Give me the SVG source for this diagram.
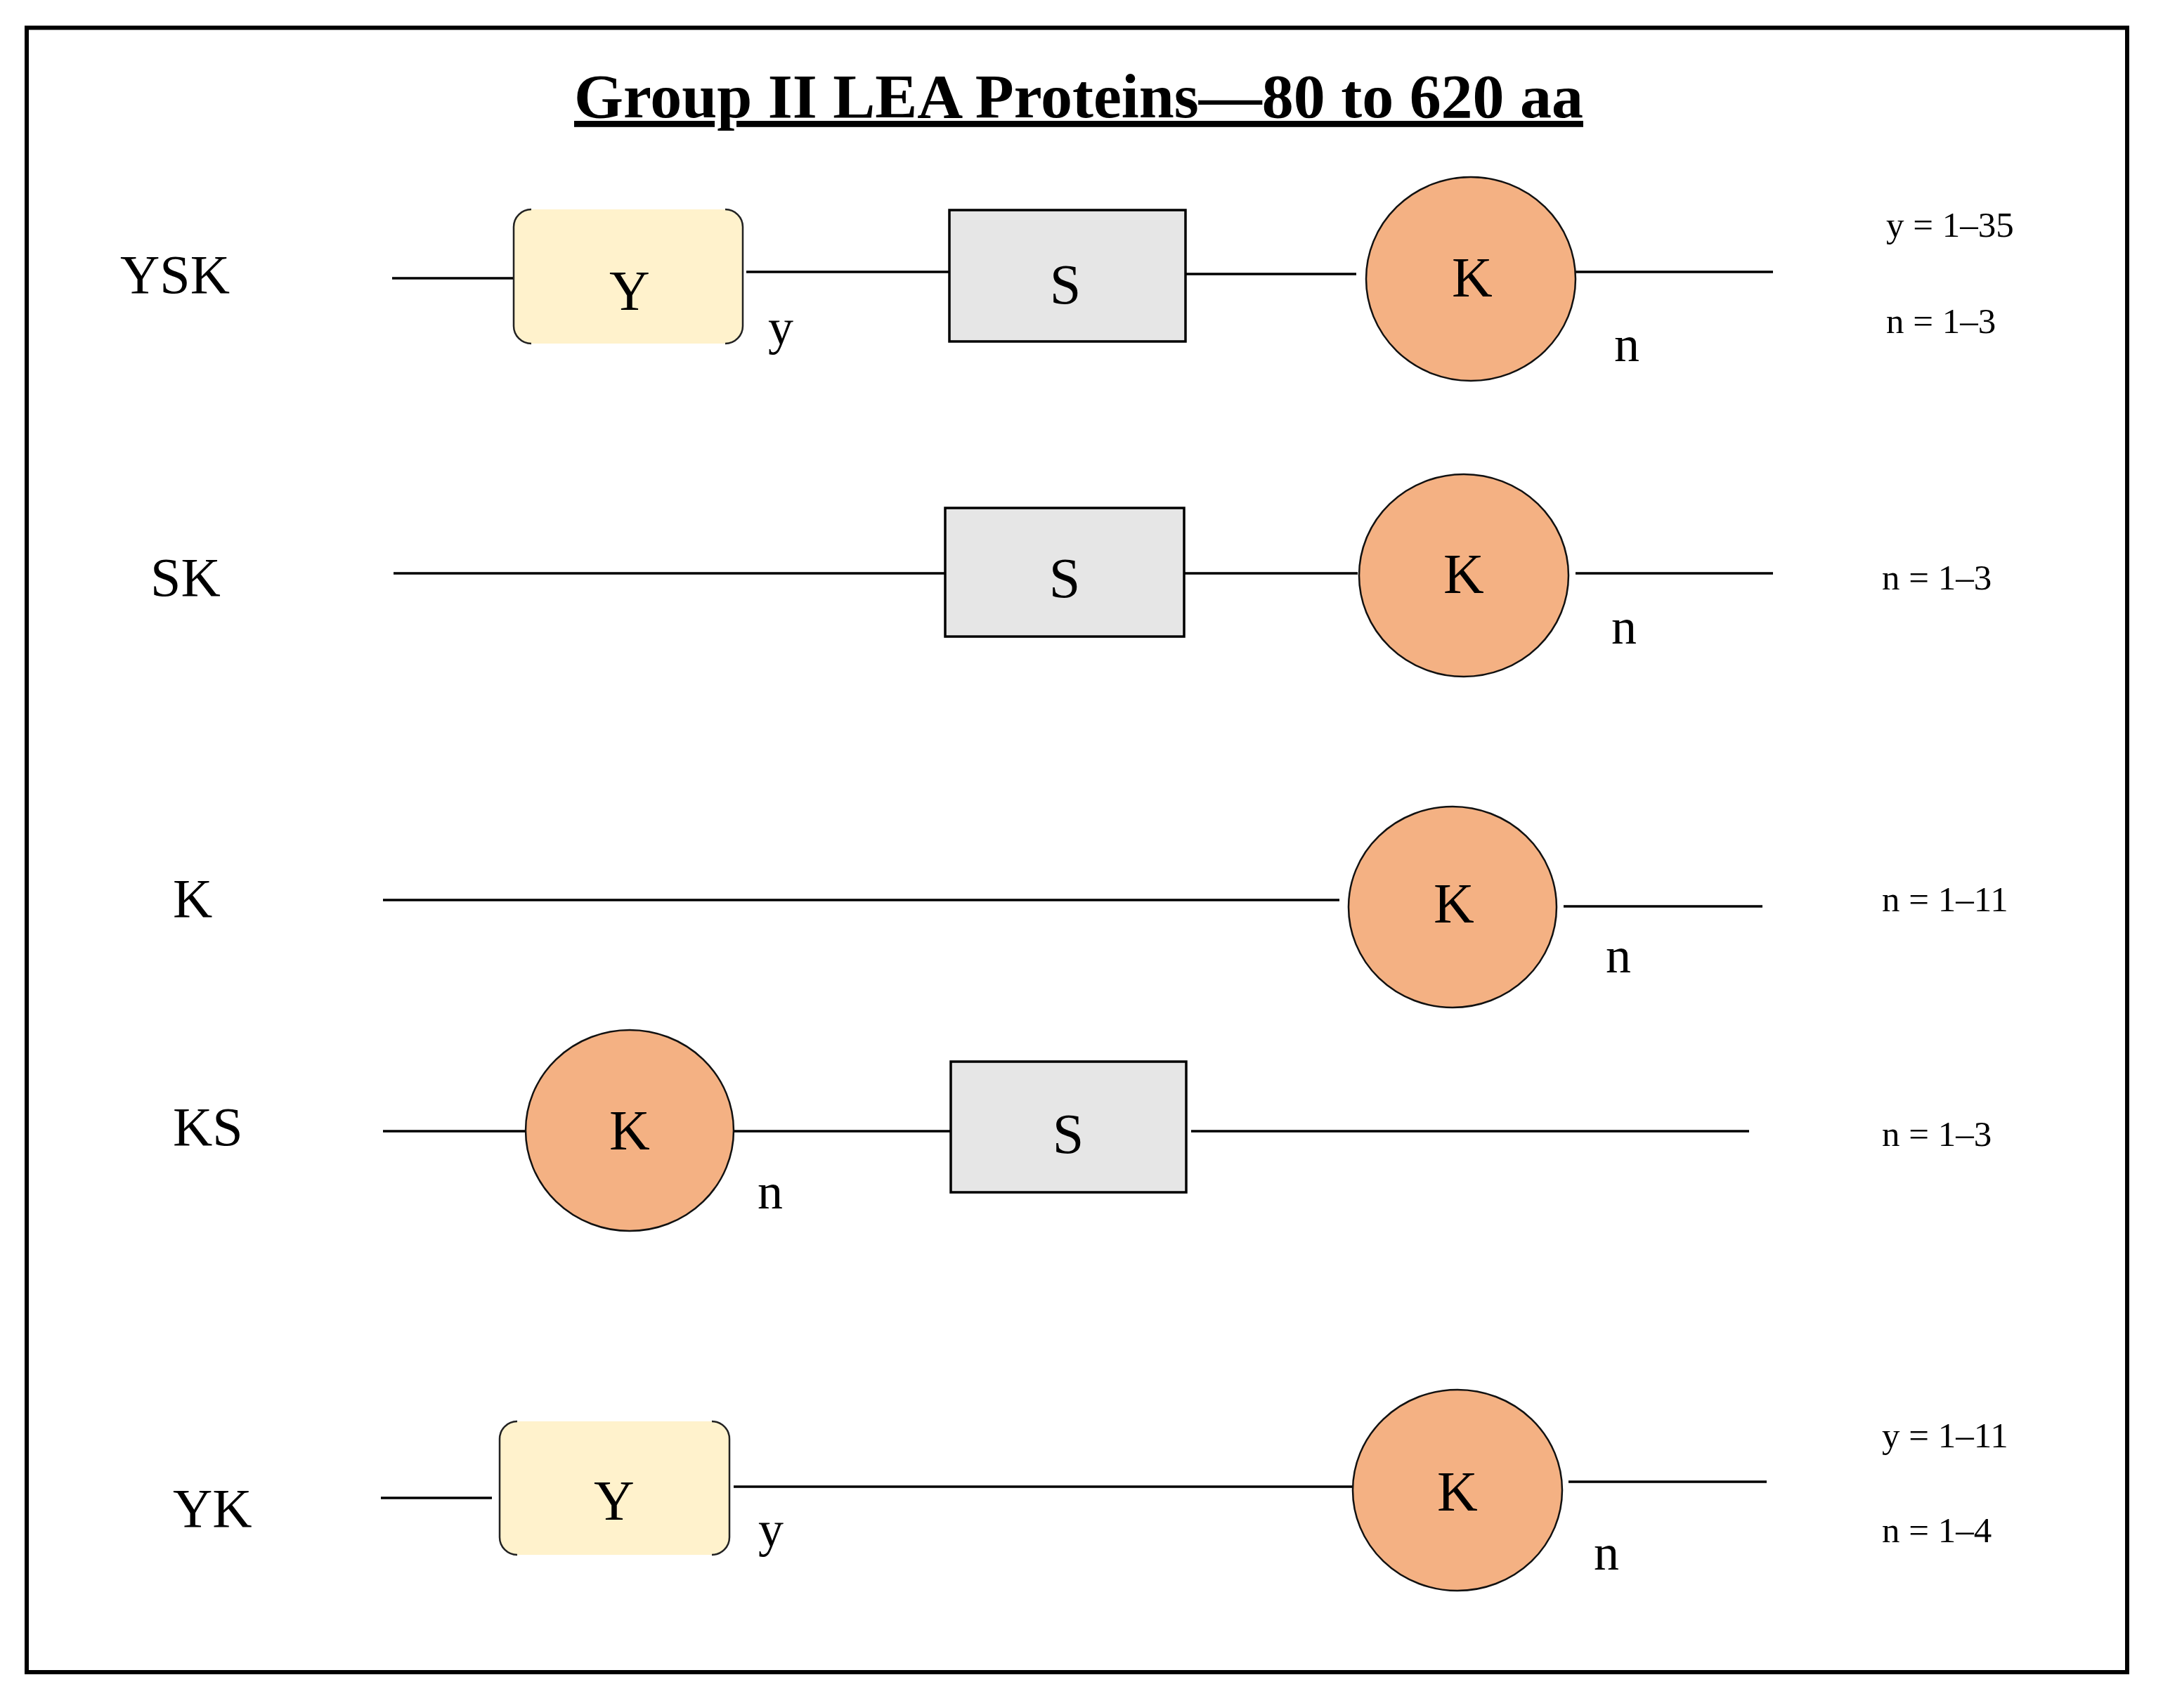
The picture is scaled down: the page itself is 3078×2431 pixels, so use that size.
<svg xmlns="http://www.w3.org/2000/svg" width="3078" height="2431" viewBox="0 0 3078 2431">
<style>
text{font-family:"Liberation Serif","DejaVu Serif",serif;fill:#000}
.lbl{font-size:78px}
.big{font-size:80px;text-anchor:middle}
.sub{font-size:72px}
.ann{font-size:51px}
.title{font-size:88px;font-weight:bold;text-anchor:middle;text-decoration:underline}
.conn line{stroke:#000;stroke-width:3.5}
.sbox{fill:#E6E6E6;stroke:#000;stroke-width:3.5}
.kell{fill:#F4B183;stroke:#111;stroke-width:2.5}
.ybox{fill:#FFF2CC}
.ybr{fill:none;stroke:#222;stroke-width:2.5}
</style>
<rect x="0" y="0" width="3078" height="2431" fill="#fff"/>
<rect x="38" y="39.5" width="2989" height="2340.5" fill="none" stroke="#000" stroke-width="6"/>
<text class="title" x="1535" y="167" textLength="1436" lengthAdjust="spacingAndGlyphs">Group II LEA Proteins—80 to 620 aa</text>

<g id="connectors" class="conn">
<line x1="558" y1="396" x2="731" y2="396"/>
<line x1="1062" y1="387" x2="1351" y2="387"/>
<line x1="1687" y1="390" x2="1930" y2="390"/>
<line x1="2242" y1="387" x2="2523" y2="387"/>
<line x1="560" y1="816" x2="1345" y2="816"/>
<line x1="1685" y1="816" x2="1932" y2="816"/>
<line x1="2242" y1="816" x2="2523" y2="816"/>
<line x1="545" y1="1281" x2="1906" y2="1281"/>
<line x1="2225" y1="1290" x2="2508" y2="1290"/>
<line x1="545" y1="1610" x2="748" y2="1610"/>
<line x1="1044" y1="1610" x2="1353" y2="1610"/>
<line x1="1695" y1="1610" x2="2489" y2="1610"/>
<line x1="542" y1="2132" x2="700" y2="2132"/>
<line x1="1044" y1="2116" x2="1925" y2="2116"/>
<line x1="2232" y1="2109" x2="2514" y2="2109"/>
</g>

<g id="row-YSK">
<text class="lbl" x="171" y="417">YSK</text>
<g id="ysk-Y">
<rect class="ybox" x="731" y="298" width="326" height="191" rx="25" ry="25"/>
<path class="ybr" d="M756,298 A25,25 0 0 0 731,323 V464 A25,25 0 0 0 756,489"/>
<path class="ybr" d="M1032,298 A25,25 0 0 1 1057,323 V464 A25,25 0 0 1 1032,489"/>
<text class="big" x="896" y="441">Y</text>
</g>
<text class="sub" x="1093" y="490">y</text>
<g id="ysk-S">
<rect class="sbox" x="1351" y="299" width="336" height="187"/>
<text class="big" x="1516" y="432">S</text>
</g>
<g id="ysk-K">
<ellipse class="kell" cx="2093" cy="397" rx="149" ry="145"/>
<text class="big" x="2095" y="422">K</text>
</g>
<text class="sub" x="2297" y="514">n</text>
<text class="ann" x="2684" y="337">y = 1–35</text>
<text class="ann" x="2684" y="474">n = 1–3</text>
</g>

<g id="row-SK">
<text class="lbl" x="214" y="848">SK</text>
<g id="sk-S">
<rect class="sbox" x="1345" y="723" width="340" height="183"/>
<text class="big" x="1515" y="850">S</text>
</g>
<g id="sk-K">
<ellipse class="kell" cx="2083" cy="819" rx="149" ry="144"/>
<text class="big" x="2083" y="844">K</text>
</g>
<text class="sub" x="2293" y="916">n</text>
<text class="ann" x="2678" y="839">n = 1–3</text>
</g>

<g id="row-K">
<text class="lbl" x="246" y="1305">K</text>
<g id="k-K">
<ellipse class="kell" cx="2067" cy="1291" rx="148" ry="143"/>
<text class="big" x="2069" y="1313">K</text>
</g>
<text class="sub" x="2285" y="1384">n</text>
<text class="ann" x="2678" y="1297">n = 1–11</text>
</g>

<g id="row-KS">
<text class="lbl" x="246" y="1630">KS</text>
<g id="ks-K">
<ellipse class="kell" cx="896" cy="1609" rx="148" ry="143"/>
<text class="big" x="896" y="1636">K</text>
</g>
<text class="sub" x="1078" y="1720">n</text>
<g id="ks-S">
<rect class="sbox" x="1353" y="1511" width="335" height="186"/>
<text class="big" x="1520" y="1641">S</text>
</g>
<text class="ann" x="2678" y="1631">n = 1–3</text>
</g>

<g id="row-YK">
<text class="lbl" x="246" y="2173">YK</text>
<g id="yk-Y">
<rect class="ybox" x="711" y="2023" width="327" height="190" rx="25" ry="25"/>
<path class="ybr" d="M736,2023 A25,25 0 0 0 711,2048 V2188 A25,25 0 0 0 736,2213"/>
<path class="ybr" d="M1013,2023 A25,25 0 0 1 1038,2048 V2188 A25,25 0 0 1 1013,2213"/>
<text class="big" x="874" y="2163">Y</text>
</g>
<text class="sub" x="1079" y="2201">y</text>
<g id="yk-K">
<ellipse class="kell" cx="2074" cy="2121" rx="149" ry="143"/>
<text class="big" x="2074" y="2150">K</text>
</g>
<text class="sub" x="2268" y="2234">n</text>
<text class="ann" x="2678" y="2060">y = 1–11</text>
<text class="ann" x="2678" y="2195">n = 1–4</text>
</g>
</svg>
